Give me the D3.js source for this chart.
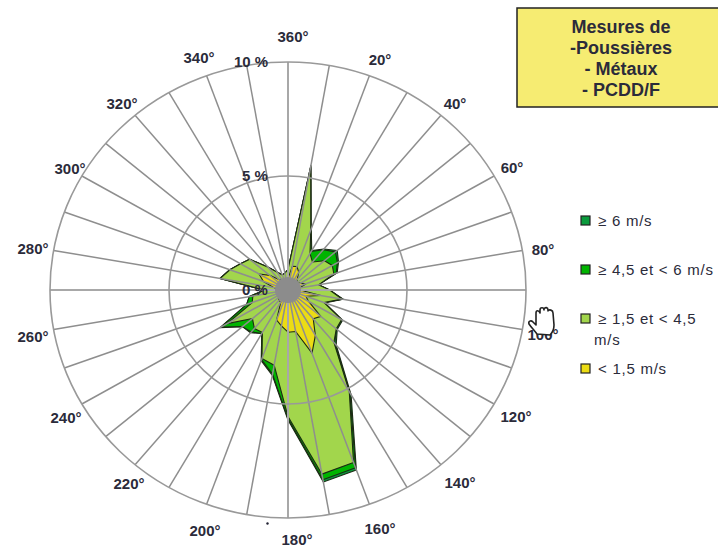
<!DOCTYPE html>
<html>
<head>
<meta charset="utf-8">
<script src="https://cdn.jsdelivr.net/npm/d3@7"></script>
<style>
  html, body { margin: 0; padding: 0; background: #fff; overflow: hidden; }
  text { font-family: "Liberation Sans", Arial, sans-serif; fill: #2b2b3a; }
  .legend text, .legend-extra { font-size: 15px; letter-spacing: .75px; }
</style>
</head>
<body>
<svg id="chart" width="718" height="547"></svg>
<script>
// wind directions, degrees clockwise from north
const directions = d3.range(0, 360, 10);

// frequency (%) per speed class, one value per direction
const under15 = [.5,1.05,1.1,.9,.6,.5,.6,.8,.5,.5,1.4,.8,1,1.8,1.65,2.3,2.95,1.85,1.85,1.6,1.4,.6,.6,.5,.5,.4,.4,.4,.6,1.1,1.4,1,.6,.5,.4,.4];
const from15to45 = [.4,4.45,1.7,.95,1,1.5,1.55,1.25,.8,1.25,.9,.8,1.6,.85,1.35,2.85,5.1,6.35,3.7,1.75,1.8,1.55,1.6,1.45,2.45,1.2,1.1,.6,2.3,1.5,.9,1.1,.7,.4,.3,.35];
const from45to6 = [0,0,0,.1,.7,.6,.25,.1,0,0,.05,0,0,0,.05,.05,.25,.25,.1,.4,.05,.05,.2,.55,.3,.25,.15,0,0,0,0,0,0,0,0,0];
const over6 = [0,.05,.05,.05,.05,.1,.05,.05,0,0,0,.05,.05,.05,.1,.1,.1,.1,.05,.05,.05,0,.05,0,.05,0,0,0,0,0,0,0,0,0,0,0];

const percentTicks = [0, 5, 10];
const angleLabels = d3.range(20, 380, 20);
const titleLines = ["Mesures de", "-Poussières", "- Métaux", "- PCDD/F"];
const legendNames = ["≥ 6 m/s", "≥ 4,5 et < 6 m/s", "≥ 1,5 et < 4,5", "< 1,5 m/s"];

const seriesColors = ["#0a9a3c", "#00b400", "#a2d64c", "#ecdc14"];

// hand placed, the source labels don't sit on a clean ellipse
const labelPos = {
  20: [380, 60], 40: [455, 104], 60: [512, 168], 80: [543, 250], 100: [543, 335],
  120: [516, 417], 140: [460, 483], 160: [380, 529], 180: [297, 540], 200: [205, 531],
  220: [129, 484], 240: [66, 418], 260: [33, 337], 280: [33, 249], 300: [70, 169],
  320: [122, 104], 340: [199, 58], 360: [293, 37]
};

const svg = d3.select("#chart");
const cx = 288, cy = 290;

// the picture is slightly squashed so the radius differs on each axis
const rX = d3.scaleLinear().domain([0, 10]).range([0, 238]);
const rY = d3.scaleLinear().domain([0, 10]).range([0, 228]);
const rad = d => d * Math.PI / 180;

const plot = svg.append("g").attr("transform", `translate(${cx},${cy})`);

// cumulate the classes, biggest outline gets drawn first
const layers = [under15, from15to45, from45to6, over6];
let running = directions.map(() => 0);
const stacked = layers.map(vals => {
  running = running.map((v, i) => v + vals[i]);
  return running;
}).reverse();

const outline = d3.line()
  .x((d, i) => rX(d) * Math.sin(rad(directions[i])))
  .y((d, i) => -rY(d) * Math.cos(rad(directions[i])))
  .curve(d3.curveLinearClosed);

plot.selectAll("path.layer")
  .data(stacked)
  .enter()
  .append("path")
    .attr("class", "layer")
    .attr("d", outline)
    .attr("fill", (d, i) => seriesColors[i])
    .attr("stroke", "#1c2a14")
    .attr("stroke-width", 1.1)
    .attr("stroke-linejoin", "round");

// grid goes over the fills
plot.selectAll("line.spoke")
  .data(directions)
  .enter()
  .append("line")
    .attr("class", "spoke")
    .attr("x1", 0)
    .attr("y1", 0)
    .attr("x2", d => rX(10) * Math.sin(rad(d)))
    .attr("y2", d => -rY(10) * Math.cos(rad(d)))
    .attr("stroke", d => d % 90 === 0 ? "#a8a8a8" : "#8e8e8e")
    .attr("stroke-width", d => d % 90 === 0 ? 2 : 1.5);

plot.selectAll("ellipse.ring")
  .data(percentTicks.slice(1))
  .enter()
  .append("ellipse")
    .attr("class", "ring")
    .attr("rx", d => rX(d))
    .attr("ry", d => rY(d))
    .attr("fill", "none")
    .attr("stroke", "#999")
    .attr("stroke-width", 1.6);

plot.append("circle")
  .attr("r", 13)
  .attr("fill", "#8c8c8c");

plot.selectAll("text.pct")
  .data(percentTicks)
  .enter()
  .append("text")
    .attr("class", "pct")
    .attr("x", d => d === 10 ? -37 : -33)
    .attr("y", d => -rY(d) + 5)
    .attr("text-anchor", "middle")
    .style("font-size", "15px")
    .style("font-weight", "bold")
    .text(d => d + " %");

svg.selectAll("text.angle")
  .data(angleLabels)
  .enter()
  .append("text")
    .attr("class", "angle")
    .attr("x", d => labelPos[d][0])
    .attr("y", d => labelPos[d][1] + 5)
    .attr("text-anchor", "middle")
    .style("font-size", "15px")
    .style("font-weight", "bold")
    .text(d => d + "°");

// title box, runs off the right edge
svg.append("rect")
  .attr("x", 517)
  .attr("y", 8)
  .attr("width", 210)
  .attr("height", 99)
  .attr("fill", "#f6ec72")
  .attr("stroke", "#222")
  .attr("stroke-width", 1.5);

svg.selectAll("text.title")
  .data(titleLines)
  .enter()
  .append("text")
    .attr("class", "title")
    .attr("x", 621)
    .attr("y", (d, i) => 33 + i * 21)
    .attr("text-anchor", "middle")
    .style("font-size", "18px")
    .style("font-weight", "bold")
    .text(d => d);

// legend
const legendY = [221, 270, 319, 369];
const legend = svg.selectAll("g.legend")
  .data(legendNames)
  .enter()
  .append("g")
    .attr("class", "legend")
    .attr("transform", (d, i) => `translate(581,${legendY[i]})`);

legend.append("rect")
  .attr("y", -5)
  .attr("width", 9)
  .attr("height", 9)
  .attr("fill", (d, i) => seriesColors[i])
  .attr("stroke", "#222")
  .attr("stroke-width", 1.2);

legend.append("text")
  .attr("x", 17)
  .attr("y", 5)
  .text(d => d);

svg.append("text")
  .attr("class", "legend-extra")
  .attr("x", 594)
  .attr("y", 345)
  .text("m/s");

// the stray dot under the chart
svg.append("circle")
  .attr("cx", 267.5)
  .attr("cy", 523.5)
  .attr("r", 1.2)
  .attr("fill", "#223");

// hand cursor left in the screenshot
svg.append("path")
  .attr("transform", "translate(528,307)")
  .attr("d", "M9 27 C6 23 3 20 1 17 C0 14 3 13 5 15 L8 18 L8 6 C8 3 11 3 12 6 L12 3 C12 0 16 0 16 3 L16 2 C17 0 20 0 20 3 L20 4 C21 2 25 3 25 6 L26 18 C26 23 24 26 22 28 Z")
  .attr("fill", "#fff")
  .attr("stroke", "#222")
  .attr("stroke-width", 1.6)
  .attr("stroke-linejoin", "round");
</script>
</body>
</html>
